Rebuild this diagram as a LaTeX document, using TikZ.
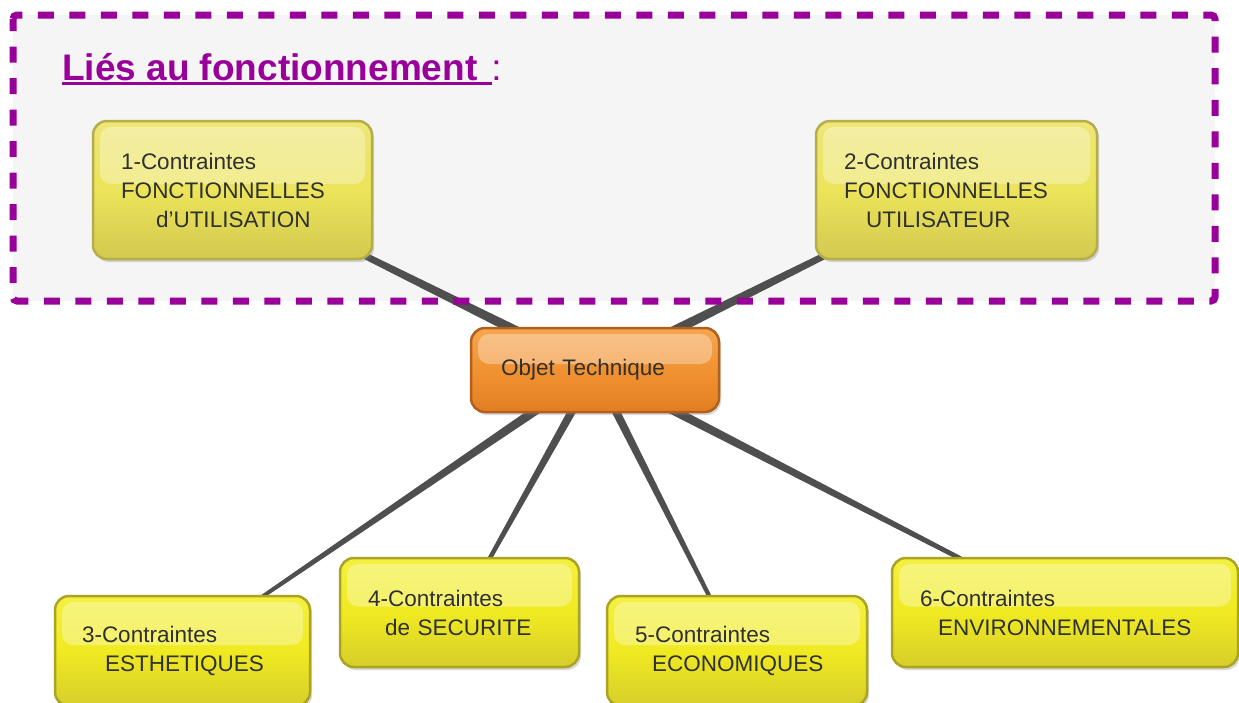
\documentclass[tikz,border=0pt]{standalone}
\usepackage{fontspec}
\setmainfont{Liberation Sans}
\usetikzlibrary{calc,shadows}
\definecolor{purp}{HTML}{990099}
\definecolor{panelgray}{HTML}{F5F5F5}
\definecolor{linkc}{HTML}{4F4F4F}
\definecolor{txt}{HTML}{303030}
\definecolor{ybord}{HTML}{ABA322}
\definecolor{ytop}{HTML}{F4F040}
\definecolor{ymid}{HTML}{F0EA22}
\definecolor{ybot}{HTML}{D6CE2A}
\definecolor{mbord}{HTML}{B5AD4A}
\definecolor{mtop}{HTML}{EEE678}
\definecolor{mmid}{HTML}{ECE45A}
\definecolor{mbot}{HTML}{D2C950}
\definecolor{obord}{HTML}{B0601C}
\definecolor{otop}{HTML}{F6A650}
\definecolor{omid}{HTML}{F19232}
\definecolor{obot}{HTML}{E27E22}
\newcommand\taper[4]{%
  \fill[linkc] ($(#1)!#3!90:(#2)$) -- ($(#2)!#4!-90:(#1)$) --
    ($(#2)!#4!90:(#1)$) -- ($(#1)!#3!-90:(#2)$) -- cycle;}
\tikzset{
  box/.style={rounded corners=14pt, line width=2.5pt, inner xsep=28pt,
    inner ysep=0pt, align=left, text=txt, anchor=center,
    font=\fontsize{22.5}{29}\selectfont,
    drop shadow={opacity=0.3, shadow xshift=2pt, shadow yshift=-3pt},
    path picture={\fill[white, opacity=0.32, rounded corners=11pt]
      ($(path picture bounding box.north west)+(7pt,-6pt)$) rectangle
      ($(path picture bounding box.east)+(-7pt,6pt)$);}},
  ybox/.style={box, draw=ybord, top color=ytop, bottom color=ybot, middle color=ymid},
  mbox/.style={box, draw=mbord, top color=mtop, bottom color=mbot, middle color=mmid},
  obox/.style={box, draw=obord, top color=otop, bottom color=obot, middle color=omid},
}
\begin{document}
\begin{tikzpicture}[x=1pt, y=-1pt]
\useasboundingbox (0,0) rectangle (1239,702);
\clip (0,0) rectangle (1239,702);
% panel fill
\fill[panelgray] (13,15) rectangle (1215,301);
% node positions
\coordinate (pc) at (595,370);
\coordinate (p1) at (232.5,190);
\coordinate (p2) at (956.5,190);
\coordinate (p3) at (182.5,651);
\coordinate (p4) at (459.5,612.5);
\coordinate (p5) at (737,651);
\coordinate (p6) at (1065,612.5);
% links
\taper{pc}{p1}{5.5pt}{2pt}
\taper{pc}{p2}{5.5pt}{2pt}
\taper{pc}{p3}{5pt}{1.2pt}
\taper{pc}{p4}{4.5pt}{1.5pt}
\taper{pc}{p5}{4.5pt}{1.5pt}
\taper{pc}{p6}{5pt}{1.5pt}
% dashed border
\draw[purp, line width=7pt, dash pattern=on 16pt off 15.5pt, dash phase=4pt,
  rounded corners=4pt] (13,15) rectangle (1215,301);
% title
\node[anchor=base west, inner sep=0pt, text=purp,
  font=\fontsize{37}{44}\selectfont] (title) at (62,80)
  {\textbf{Liés au fonctionnement}\hspace{14pt}:};
\draw[purp, line width=2.2pt] ([yshift=-3.5pt]title.base west) -- ++(430pt,0pt);
% nodes
\node[mbox, text width=223pt, minimum height=138pt] (n1) at (p1)
  {1-Contraintes\\FONCTIONNELLES\\\hspace*{35pt}d'UTILISATION};
\node[mbox, text width=225pt, minimum height=138pt] (n2) at (p2)
  {2-Contraintes\\FONCTIONNELLES\\\hspace*{22pt}UTILISATEUR};
\node[obox, inner xsep=30pt, text width=188pt, minimum height=84pt] (nc) at (pc)
  {\raisebox{-3pt}{Objet Technique}};
\node[ybox, inner xsep=27pt, text width=201pt, minimum height=110pt] (n3) at (p3)
  {3-Contraintes\\\hspace*{23pt}ESTHETIQUES};
\node[ybox, text width=183pt, minimum height=109pt] (n4) at (p4)
  {4-Contraintes\\\hspace*{17pt}de SECURITE};
\node[ybox, text width=204pt, minimum height=110pt] (n5) at (p5)
  {5-Contraintes\\\hspace*{17pt}ECONOMIQUES};
\node[ybox, text width=290pt, minimum height=109pt] (n6) at (p6)
  {6-Contraintes\\\hspace*{18pt}ENVIRONNEMENTALES};
\end{tikzpicture}
\end{document}
